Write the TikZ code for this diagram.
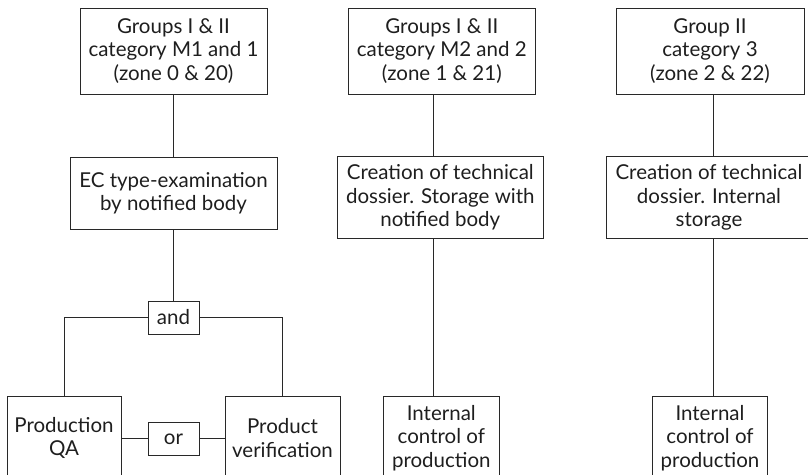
\documentclass[tikz,border=0pt]{standalone}
\usepackage{fontspec}
\setmainfont{Lato}
\definecolor{ln}{RGB}{40,40,40}
\definecolor{tx}{RGB}{30,30,30}
\begin{document}
\begin{tikzpicture}[x=1pt,y=-1pt,
  box/.style={draw=ln, line width=1pt, inner sep=0pt, align=center,
    font=\fontsize{20.5}{23.5}\selectfont, text=tx},
  conn/.style={draw=ln, line width=1pt}]
\useasboundingbox (0,0) rectangle (808,474);
\clip (0,0) rectangle (808,474);
% left column
\node[box, minimum width=187pt, minimum height=86pt] (A) at (173.5,51) {Groups I \& II\\category M1 and 1\\(zone 0 \& 20)};
\node[box, minimum width=207pt, minimum height=72pt] (B) at (173.5,193) {EC type-examination\\by notified body};
\node[box, minimum width=51pt, minimum height=33pt] (and) at (173.5,317.5) {and};
\node[box, minimum width=114pt, minimum height=84pt] (QA) at (64,438) {Production\\QA};
\node[box, minimum width=51pt, minimum height=33pt] (or) at (173.5,438.8) {or};
\node[box, minimum width=115pt, minimum height=84pt] (PV) at (282.5,438) {Product\\verification};
% middle column
\node[box, minimum width=187pt, minimum height=86pt] (C) at (441.8,51) {Groups I \& II\\category M2 and 2\\(zone 1 \& 21)};
\node[box, minimum width=206pt, minimum height=82pt] (D) at (440.3,197.5) {Creation of technical\\dossier. Storage with\\notified body};
\node[box, minimum width=116pt, minimum height=84pt] (E) at (441.3,438) {Internal\\control of\\production};
% right column
\node[box, minimum width=188pt, minimum height=86pt] (F) at (710,51) {Group II\\category 3\\(zone 2 \& 22)};
\node[box, minimum width=206pt, minimum height=82pt] (G) at (709,197.5) {Creation of technical\\dossier. Internal\\storage};
\node[box, minimum width=115pt, minimum height=84pt] (H) at (710,438) {Internal\\control of\\production};
% connectors
\draw[conn] (A) -- (B);
\draw[conn] (B) -- (and);
\draw[conn] (and.west) -| (QA.north);
\draw[conn] (and.east) -| (PV.north);
\draw[conn] (or.west) -- (or.west -| QA.east);
\draw[conn] (or.east) -- (or.east -| PV.west);
\coordinate (mx) at (433,0);
\coordinate (rx) at (713.3,0);
\draw[conn] (C.south -| mx) -- (D.north -| mx);
\draw[conn] (D.south -| mx) -- (E.north -| mx);
\draw[conn] (F.south -| rx) -- (G.north -| rx);
\draw[conn] (G.south -| rx) -- (H.north -| rx);
\end{tikzpicture}
\end{document}
